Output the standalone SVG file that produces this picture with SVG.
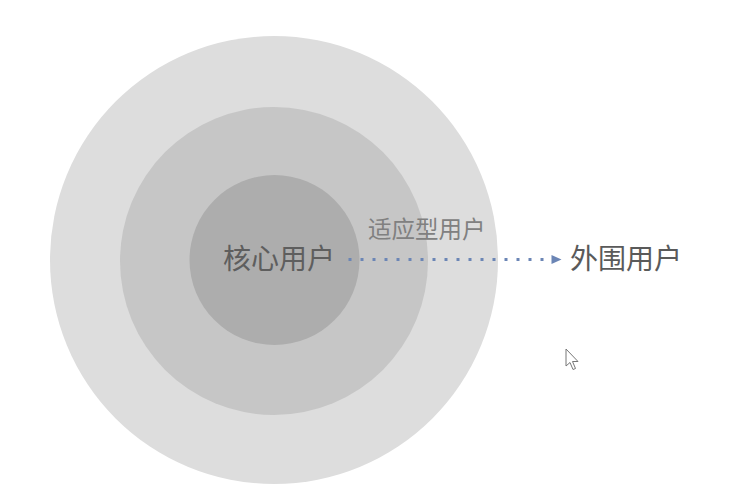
<svg xmlns="http://www.w3.org/2000/svg" width="738" height="498" viewBox="0 0 738 498">
<style>
.lbl{font-family:"Noto Sans CJK SC","Noto Sans",sans-serif;}
</style>
<rect width="738" height="498" fill="#ffffff"/>
<g id="outer"><circle cx="274" cy="260" r="224" fill="#dddddd"/></g>
<g id="middle"><circle cx="274" cy="261" r="154" fill="#c6c6c6"/></g>
<g id="inner"><circle cx="274.5" cy="260" r="85" fill="#adadad"/></g>
<g id="connectors">
<line x1="348.5" y1="259.5" x2="545" y2="259.5" stroke="#6b85b5" stroke-width="3" stroke-dasharray="3 9"/>
<polygon points="551.5,255 561.5,259.5 551.5,264" fill="#6b85b5"/>
</g>
<g id="core"><text class="lbl" x="223" y="269" font-size="28" fill="#5e5e5e">核心用户</text></g>
<g id="adaptive"><text class="lbl" x="368" y="238" font-size="23.5" fill="#808080">适应型用户</text></g>
<g id="periphery"><text class="lbl" x="570" y="269" font-size="28" fill="#5a5a5a">外围用户</text></g>
<g id="cursor"><path d="M566,349 L566,366 L570,362.5 L573,369.5 L575.5,368.5 L572.5,361.5 L578,361.5 Z" fill="#ffffff" stroke="#777777" stroke-width="1"/></g>
</svg>
